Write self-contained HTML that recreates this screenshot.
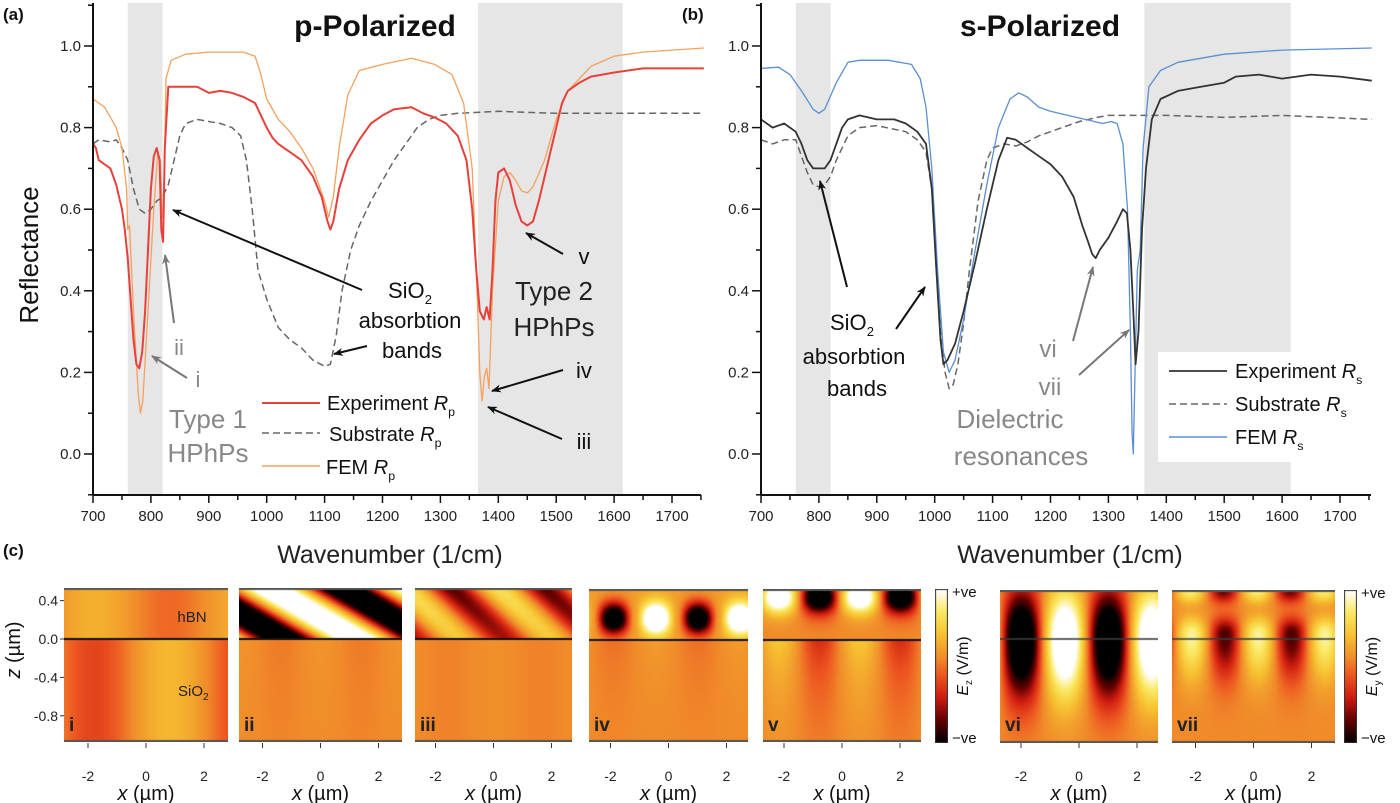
<!DOCTYPE html>
<html><head><meta charset="utf-8">
<style>
html,body{margin:0;padding:0;background:#fff;}
#root{position:relative;width:1400px;height:803px;overflow:hidden;font-family:"Liberation Sans",sans-serif;}
canvas{position:absolute;}
svg{position:absolute;left:0;top:0;}
</style></head>
<body>
<div id="root">
<canvas id="hm-i" style="left:64px;top:588px" width="164" height="154"></canvas>
<canvas id="hm-ii" style="left:239px;top:588px" width="163" height="154"></canvas>
<canvas id="hm-iii" style="left:415px;top:588px" width="157" height="154"></canvas>
<canvas id="hm-iv" style="left:589px;top:589px" width="159" height="153"></canvas>
<canvas id="hm-v" style="left:763px;top:589px" width="158" height="153"></canvas>
<canvas id="hm-vi" style="left:1000px;top:590px" width="158" height="153"></canvas>
<canvas id="hm-vii" style="left:1172px;top:590px" width="163" height="153"></canvas>
<canvas id="cb1" style="left:935px;top:589px" width="13" height="154"></canvas>
<canvas id="cb2" style="left:1344px;top:590px" width="13" height="153"></canvas>
<svg id="svg" width="1400" height="803" xmlns="http://www.w3.org/2000/svg">
<defs>
<marker id="ahk" markerWidth="10" markerHeight="8" refX="9" refY="4" orient="auto" markerUnits="userSpaceOnUse"><path d="M0,0 L10,4 L0,8 L3,4 Z" fill="#111"/></marker>
<marker id="ahg" markerWidth="10" markerHeight="8" refX="9" refY="4" orient="auto" markerUnits="userSpaceOnUse"><path d="M0,0 L10,4 L0,8 L3,4 Z" fill="#777"/></marker>
</defs>
</svg>
</div>
<script>
// ---------- data: panel (a) p-polarized ----------
const expPx=[700,705,710,720,730,740,750,755,760,765,770,775,780,785,790,795,800,805,810,815,818,821,824,830,840,860,880,900,920,940,960,980,990,1000,1010,1020,1040,1060,1080,1095,1105,1110,1115,1125,1140,1160,1180,1200,1220,1250,1270,1290,1310,1330,1345,1355,1362,1368,1375,1380,1385,1390,1395,1400,1410,1420,1430,1440,1450,1460,1470,1480,1490,1500,1510,1520,1540,1560,1580,1600,1650,1700,1755];
const expPy=[0.76,0.75,0.72,0.71,0.70,0.66,0.60,0.55,0.48,0.38,0.28,0.22,0.21,0.25,0.35,0.50,0.65,0.73,0.75,0.72,0.55,0.52,0.75,0.90,0.90,0.90,0.90,0.885,0.89,0.885,0.875,0.86,0.83,0.80,0.775,0.76,0.74,0.72,0.68,0.63,0.57,0.55,0.57,0.65,0.72,0.77,0.81,0.83,0.845,0.85,0.835,0.825,0.81,0.78,0.72,0.60,0.45,0.35,0.33,0.36,0.33,0.45,0.62,0.69,0.70,0.67,0.61,0.57,0.56,0.57,0.62,0.68,0.74,0.80,0.86,0.89,0.91,0.925,0.93,0.935,0.945,0.945,0.945];
const femPx=[700,720,740,750,758,760,763,770,778,782,786,795,805,812,816,820,822,826,835,860,900,960,980,990,1000,1020,1040,1060,1080,1100,1107,1115,1125,1140,1160,1200,1250,1290,1320,1340,1355,1362,1368,1372,1376,1380,1384,1390,1400,1410,1420,1430,1440,1450,1460,1480,1500,1520,1560,1600,1650,1700,1755];
const femPy=[0.87,0.85,0.80,0.75,0.65,0.55,0.56,0.35,0.15,0.10,0.13,0.35,0.60,0.74,0.72,0.58,0.60,0.92,0.965,0.98,0.985,0.985,0.975,0.93,0.87,0.82,0.79,0.75,0.70,0.62,0.58,0.63,0.75,0.88,0.94,0.955,0.97,0.955,0.93,0.86,0.70,0.45,0.20,0.13,0.19,0.21,0.16,0.40,0.62,0.68,0.69,0.67,0.645,0.64,0.655,0.72,0.82,0.89,0.95,0.975,0.985,0.99,0.995];
const subPx=[700,710,730,740,750,760,770,780,790,800,810,820,830,840,850,860,880,900,920,940,955,965,975,985,1000,1020,1040,1060,1080,1100,1110,1120,1130,1145,1160,1180,1200,1220,1240,1260,1280,1300,1330,1400,1500,1600,1755];
const subPy=[0.76,0.77,0.765,0.77,0.75,0.72,0.65,0.60,0.59,0.60,0.62,0.63,0.66,0.72,0.78,0.81,0.82,0.815,0.81,0.80,0.78,0.72,0.60,0.45,0.38,0.31,0.28,0.26,0.23,0.215,0.22,0.29,0.40,0.50,0.56,0.62,0.67,0.72,0.76,0.80,0.82,0.83,0.835,0.84,0.835,0.835,0.835];
// ---------- data: panel (b) s-polarized ----------
const expSx=[700,720,740,760,770,780,790,800,810,820,830,840,850,870,900,930,950,970,985,995,1003,1010,1015,1022,1035,1050,1070,1090,1110,1125,1140,1160,1180,1200,1220,1240,1255,1265,1272,1278,1285,1300,1315,1325,1332,1338,1343,1347,1352,1358,1365,1375,1390,1420,1460,1500,1520,1560,1600,1650,1700,1755];
const expSy=[0.82,0.80,0.81,0.79,0.76,0.72,0.70,0.70,0.70,0.72,0.76,0.80,0.82,0.83,0.82,0.82,0.81,0.79,0.76,0.65,0.45,0.28,0.22,0.23,0.27,0.35,0.47,0.60,0.72,0.775,0.77,0.75,0.73,0.71,0.68,0.63,0.56,0.52,0.49,0.48,0.50,0.53,0.57,0.60,0.59,0.50,0.35,0.22,0.30,0.55,0.70,0.82,0.87,0.89,0.90,0.91,0.925,0.93,0.92,0.93,0.925,0.915];
const subSx=[700,720,740,760,770,780,790,800,810,820,830,850,870,900,950,970,985,995,1003,1010,1018,1025,1032,1040,1050,1060,1075,1090,1100,1120,1140,1160,1180,1200,1220,1250,1280,1300,1400,1500,1600,1755];
const subSy=[0.77,0.76,0.77,0.77,0.73,0.69,0.66,0.655,0.66,0.68,0.72,0.78,0.80,0.805,0.79,0.77,0.74,0.65,0.45,0.30,0.20,0.16,0.17,0.22,0.32,0.45,0.62,0.72,0.75,0.76,0.755,0.765,0.78,0.79,0.80,0.815,0.825,0.83,0.83,0.825,0.83,0.82];
const femSx=[700,730,750,770,790,800,810,830,850,870,920,960,975,985,995,1005,1015,1025,1035,1050,1070,1090,1110,1130,1145,1160,1180,1200,1230,1260,1290,1305,1315,1325,1333,1338,1341,1343,1346,1350,1355,1360,1370,1390,1420,1500,1600,1755];
const femSy=[0.945,0.948,0.93,0.89,0.845,0.835,0.845,0.91,0.96,0.965,0.965,0.955,0.92,0.85,0.70,0.45,0.25,0.20,0.23,0.33,0.50,0.66,0.80,0.87,0.885,0.875,0.85,0.84,0.83,0.82,0.81,0.815,0.81,0.76,0.60,0.30,0.05,0.00,0.20,0.45,0.50,0.75,0.90,0.94,0.96,0.98,0.99,0.995];
const xTicks=[700,800,900,1000,1100,1200,1300,1400,1500,1600,1700];
const yTicks=[0.0,0.2,0.4,0.6,0.8,1.0];
const bandsA=[[760,820],[1365,1615]];
const bandsB=[[760,820],[1362,1615]];

const NS='http://www.w3.org/2000/svg';
const svg=document.getElementById('svg');
function el(tag,attrs,parent){const e=document.createElementNS(NS,tag);for(const k in attrs)e.setAttribute(k,attrs[k]);(parent||svg).appendChild(e);return e;}
function txt(x,y,s,o,parent){o=o||{};const t=el('text',{x:x,y:y,'font-size':o.size||15,fill:o.fill||'#222','text-anchor':o.anchor||'start','font-family':'"Liberation Sans",sans-serif','font-weight':o.bold?'bold':'normal'},parent);if(o.rot)t.setAttribute('transform','rotate('+o.rot+' '+x+' '+y+')');t.textContent=s;return t;}
const yv=v=>454-v*408;
function makeX(x0){return w=>x0+(w-700)*0.579;}
const xA=makeX(93), xB=makeX(761);

function drawAxes(g,X,x0,x1,labelX){
  for(let w=700;w<=1750;w+=50){const major=w%100===0;const t=el('line',{x1:X(w),x2:X(w),y1:495,y2:495+(major?8:5),stroke:'#111','stroke-width':1.5},g);
    }
  xTicks.forEach(w=>{const t=txt(X(w),521,String(w),{anchor:'middle',size:15},g);});
  for(let v=-0.1;v<=1.101;v+=0.1){const r=Math.round(v*10);const major=r%2===0;const t=el('line',{x1:x0-(major?9:5),x2:x0,y1:yv(r/10),y2:yv(r/10),stroke:'#111','stroke-width':1.5},g);
    }
  yTicks.forEach(v=>{const t=txt(x0-12,yv(v)+5,v.toFixed(1),{anchor:'end',size:15},g);});
  const a1=el('line',{x1:x0,x2:x0,y1:3,y2:495,stroke:'#111','stroke-width':2},g);
  const a2=el('line',{x1:x0,x2:x1,y1:495,y2:495,stroke:'#111','stroke-width':2},g);
  const xt=txt(labelX,563,'Wavenumber (1/cm)',{anchor:'middle',size:25},g);
}
function series(g,X,xs,ys,color,width,dash,name){
  let d='';xs.forEach((w,i)=>{d+=(i?'L':'M')+X(w).toFixed(1)+','+yv(ys[i]).toFixed(1);});
  const p=el('path',{d:d,fill:'none',stroke:color,'stroke-width':width,'stroke-linejoin':'round'},g);
  if(dash)p.setAttribute('stroke-dasharray',dash);
  
}
function bands(g,X,bs,name){bs.forEach(b=>{const r=el('rect',{x:X(b[0]),y:3,width:X(b[1])-X(b[0]),height:492,fill:'#e6e6e6'},g);});}
function arrow(g,x1,y1,x2,y2,grey){const l=el('line',{x1:x1,y1:y1,x2:x2,y2:y2,stroke:grey?'#777':'#111','stroke-width':2,'marker-end':grey?'url(#ahg)':'url(#ahk)'},g);}
function rlabel(g,x,y,pre,sub,size){const t=el('text',{x:x,y:y,'font-size':size,fill:'#111','font-family':'"Liberation Sans",sans-serif'},g);
  const a=el('tspan',{},t);a.textContent=pre;const b=el('tspan',{'font-style':'italic'},t);b.textContent='R';const c=el('tspan',{'font-size':size*0.62,dy:6},t);c.textContent=sub;return t;}

// ----- panel a -----
const gA=el('g',{});
bands(gA,xA,bandsA,'absorption-band-shade');
series(gA,xA,subPx,subPy,'#666',1.5,'7,4','series-substrate-rp');
series(gA,xA,femPx,femPy,'#f5a15e',1.3,null,'series-fem-rp');
series(gA,xA,expPx,expPy,'#e8403a',2,null,'series-experiment-rp');
drawAxes(gA,xA,93,701,390);
txt(3,20,'(a)',{size:17,bold:true,fill:'#111'},gA);
txt(375,36,'p-Polarized',{size:30,bold:true,anchor:'middle',fill:'#111'},gA);
txt(38,255,'Reflectance',{size:26,anchor:'middle',rot:-90,fill:'#111'},gA);
const sA=el('text',{x:388,y:298,'font-size':22,fill:'#111','font-family':'"Liberation Sans",sans-serif'},gA);sA.textContent='SiO';const s2=el('tspan',{'font-size':13,dy:6},sA);s2.textContent='2';
txt(410,328,'absorbtion',{size:22,anchor:'middle',fill:'#111'},gA);
txt(412,358,'bands',{size:22,anchor:'middle',fill:'#111'},gA);
txt(554,300,'Type 2',{size:26,anchor:'middle',fill:'#222'},gA);
txt(554,336,'HPhPs',{size:26,anchor:'middle',fill:'#222'},gA);
txt(584,264,'v',{size:22,anchor:'middle',fill:'#111'},gA);
txt(584,378,'iv',{size:22,anchor:'middle',fill:'#111'},gA);
txt(584,449,'iii',{size:22,anchor:'middle',fill:'#111'},gA);
txt(179,355,'ii',{size:22,anchor:'middle',fill:'#888'},gA);
txt(198,387,'i',{size:22,anchor:'middle',fill:'#888'},gA);
txt(208,428,'Type 1',{size:26,anchor:'middle',fill:'#888'},gA);
txt(208,462,'HPhPs',{size:26,anchor:'middle',fill:'#888'},gA);
arrow(gA,362,290,173,210);arrow(gA,367,346,334,354);
arrow(gA,174,323,165,255,true);arrow(gA,187,378,152,356,true);
arrow(gA,563,254,526,233);arrow(gA,563,370,492,391);arrow(gA,562,439,488,407);
const lgA=el('g',{},gA);
el('line',{x1:262,x2:320,y1:403,y2:403,stroke:'#e8403a','stroke-width':2},lgA);
rlabel(lgA,327,410,'Experiment ','p',20);
el('line',{x1:262,x2:320,y1:433,y2:433,stroke:'#666','stroke-width':1.5,'stroke-dasharray':'7,4'},lgA);
rlabel(lgA,329,441,'Substrate ','p',20);
el('line',{x1:262,x2:320,y1:466,y2:466,stroke:'#f5a15e','stroke-width':1.5},lgA);
rlabel(lgA,326,474,'FEM ','p',20);

// ----- panel b -----
const gB=el('g',{});
bands(gB,xB,bandsB,'absorption-band-shade');
const lbx=el('rect',{x:1158,y:352,width:242,height:110,fill:'#fff'},gB);
series(gB,xB,subSx,subSy,'#666',1.5,'7,4','series-substrate-rs');
series(gB,xB,femSx,femSy,'#5b8fd0',1.3,null,'series-fem-rs');
series(gB,xB,expSx,expSy,'#333',1.8,null,'series-experiment-rs');
drawAxes(gB,xB,761,1371,1070);
txt(682,20,'(b)',{size:17,bold:true,fill:'#111'},gB);
txt(1040,36,'s-Polarized',{size:30,bold:true,anchor:'middle',fill:'#111'},gB);
const sB=el('text',{x:830,y:330,'font-size':22,fill:'#111','font-family':'"Liberation Sans",sans-serif'},gB);sB.textContent='SiO';const s3=el('tspan',{'font-size':13,dy:6},sB);s3.textContent='2';
txt(854,364,'absorbtion',{size:22,anchor:'middle',fill:'#111'},gB);
txt(857,396,'bands',{size:22,anchor:'middle',fill:'#111'},gB);
txt(1048,357,'vi',{size:24,anchor:'middle',fill:'#888'},gB);
txt(1050,395,'vii',{size:24,anchor:'middle',fill:'#888'},gB);
txt(1010,428,'Dielectric',{size:26,anchor:'middle',fill:'#888'},gB);
txt(1021,465,'resonances',{size:26,anchor:'middle',fill:'#888'},gB);
arrow(gB,847,287,820,181);arrow(gB,896,329,925,287);
arrow(gB,1073,341,1093,267,true);arrow(gB,1079,375,1129,330,true);
const lgB=el('g',{},gB);
el('line',{x1:1169,x2:1227,y1:371,y2:371,stroke:'#333','stroke-width':1.8},lgB);
rlabel(lgB,1235,378,'Experiment ','s',20);
el('line',{x1:1169,x2:1227,y1:404,y2:404,stroke:'#666','stroke-width':1.5,'stroke-dasharray':'7,4'},lgB);
rlabel(lgB,1235,411,'Substrate ','s',20);
el('line',{x1:1169,x2:1227,y1:437,y2:437,stroke:'#5b8fd0','stroke-width':1.5},lgB);
rlabel(lgB,1235,444,'FEM ','s',20);

// ----- panel c heatmaps -----
txt(3,556,'(c)',{size:17,bold:true,fill:'#111'});
const stops=[[0,[0,0,0]],[0.15,[100,0,0]],[0.3,[208,30,16]],[0.45,[238,90,34]],[0.55,[240,138,42]],[0.7,[246,192,48]],[0.85,[250,232,96]],[1,[255,255,255]]];
function cmap(t){t=Math.max(0,Math.min(1,t));for(let i=1;i<stops.length;i++){if(t<=stops[i][0]){const a=stops[i-1],b=stops[i];const f=(t-a[0])/(b[0]-a[0]);return a[1].map((c,j)=>c+(b[1][j]-c)*f);}}return [255,255,255];}
const P=Math.PI*2;
const sp=(c,p)=>Math.sign(c)*Math.pow(Math.abs(c),p);
const fields={
 'hm-i':(x,z)=>z>0?0.05-0.18*Math.cos(P*(x-0.8)/5.2):0.28*Math.cos(P*(x-0.8)/5.2),
 'hm-ii':(x,z)=>z>0?1.4*Math.cos(P*(x+5.7*z-1.27)/5):0.06*Math.cos(P*x/2.8)*Math.exp(z),
 'hm-iii':(x,z)=>z>0?0.6*Math.cos(P*(x+3.5*z+1.2)/3.2)*(0.8+z*0.6)-0.08:0.03*Math.cos(P*x/3.2),
 'hm-iv':(x,z)=>z>0?-1.5*sp(Math.cos(P*(x+1.9)/2.9),1.4)*Math.exp(-Math.pow((z-0.23)/0.17,2))+0.12:0.1*Math.cos(P*(x+0.45)/2.9)*Math.exp(z/0.5),
 'hm-v':(x,z)=>z>0?1.3*Math.cos(P*(x+2.2)/2.8)*Math.exp(-Math.pow((z-0.45)/0.16,2))+0.3*Math.cos(P*(x+2.2)/2.8)*z:0.4*Math.cos(P*(x+2.2)/2.8)*Math.exp(z/0.55),
 'hm-vi':(x,z)=>-1.5*Math.cos(P*(x+2)/3)*Math.exp(-Math.pow(z/(z>0?0.5:0.6),2)),
 'hm-vii':(x,z)=>{const c=-0.8*Math.cos(P*(x+1)/2.3)*Math.exp(-Math.pow((z-0.05)/(z>0.05?0.18:0.45),2));const t=0.7*Math.cos(P*(x+2.2)/2.3)*Math.exp(-Math.pow((z-0.5)/0.12,2));return c+t;}
};
Object.keys(fields).forEach(id=>{
  const cv=document.getElementById(id);const ctx=cv.getContext('2d');const W=cv.width,H=cv.height;
  const img=ctx.createImageData(W,H);const z0=(id==='hm-vi'||id==='hm-vii')?49:51;
  for(let j=0;j<H;j++)for(let i=0;i<W;i++){const x=(i-W/2)/29;const z=(z0-j)/96;const f=fields[id](x,z);
    const t=f>0?0.55+0.45*f:0.55+0.55*f;const c=cmap(t);const k=(j*W+i)*4;img.data[k]=c[0];img.data[k+1]=c[1];img.data[k+2]=c[2];img.data[k+3]=255;}
  ctx.putImageData(img,0,0);
  ctx.fillStyle=(id==='hm-vi'||id==='hm-vii')?'rgba(60,60,60,0.8)':'#111';ctx.fillRect(0,z0-1,W,2);
  ctx.fillStyle='#555';ctx.fillRect(0,0,W,2);ctx.fillRect(0,H-2,W,2);
});
['cb1','cb2'].forEach(id=>{const cv=document.getElementById(id);const ctx=cv.getContext('2d');const H=cv.height;
  for(let j=0;j<H;j++){const c=cmap(1-j/(H-1));ctx.fillStyle='rgb('+c.map(Math.round).join(',')+')';ctx.fillRect(0,j,13,1);}
  ctx.strokeStyle='#333';ctx.strokeRect(0.5,0.5,12,H-1);});
const panels=[[64,164,'i'],[239,163,'ii'],[415,157,'iii'],[589,159,'iv'],[763,158,'v'],[1000,158,'vi'],[1172,163,'vii']];
const pxTicks=[-2,0,2];
panels.forEach(p=>{const cx=p[0]+p[1]/2;
  pxTicks.forEach(v=>{const t=txt(cx+v*29,781,String(v),{anchor:'middle',size:14});
    el('line',{x1:cx+v*29,x2:cx+v*29,y1:743,y2:748,stroke:'#333','stroke-width':1});});
  const xl=el('text',{x:cx,y:800,'font-size':20,'text-anchor':'middle',fill:'#111','font-family':'"Liberation Sans",sans-serif'});
  
  const it=el('tspan',{'font-style':'italic'},xl);it.textContent='x';const rt=el('tspan',{},xl);rt.textContent=' (µm)';
  const pl=txt(p[0]+5,731,p[2],{size:19,bold:true,fill:'#222'});
});
const zTicks=[0.4,0.0,-0.4,-0.8];
zTicks.forEach(v=>{const y=639-v*96;txt(58,y+5,v.toFixed(1),{anchor:'end',size:14});el('line',{x1:60,x2:64,y1:y,y2:y,stroke:'#333'});});
const zl=el('text',{x:20,y:650,'font-size':20,'text-anchor':'middle',fill:'#111',transform:'rotate(-90 20 650)','font-family':'"Liberation Sans",sans-serif'});

const zi=el('tspan',{'font-style':'italic'},zl);zi.textContent='z';const zr=el('tspan',{},zl);zr.textContent=' (µm)';
txt(192,622,'hBN',{size:15,anchor:'middle',fill:'#222'});
const so=el('text',{x:178,y:696,'font-size':15,fill:'#222','font-family':'"Liberation Sans",sans-serif'});so.textContent='SiO';const so2=el('tspan',{'font-size':10,dy:4},so);so2.textContent='2';
[[948,589,743,'z'],[1357,590,743,'y']].forEach(c=>{
  txt(c[0]+4,c[1]+8,'+ve',{size:15,fill:'#111'});txt(c[0]+4,c[2],'−ve',{size:15,fill:'#111'});
  const ey=(c[1]+c[2])/2;const t=el('text',{x:c[0]+20,y:ey,'font-size':16,'text-anchor':'middle',fill:'#111',transform:'rotate(-90 '+(c[0]+20)+' '+ey+')','font-family':'"Liberation Sans",sans-serif'});
  
  const a=el('tspan',{'font-style':'italic'},t);a.textContent='E';const b=el('tspan',{'font-size':10,dy:4},t);b.textContent=c[3];const d=el('tspan',{dy:-4},t);d.textContent=' (V/m)';
});
</script>
</body></html>
